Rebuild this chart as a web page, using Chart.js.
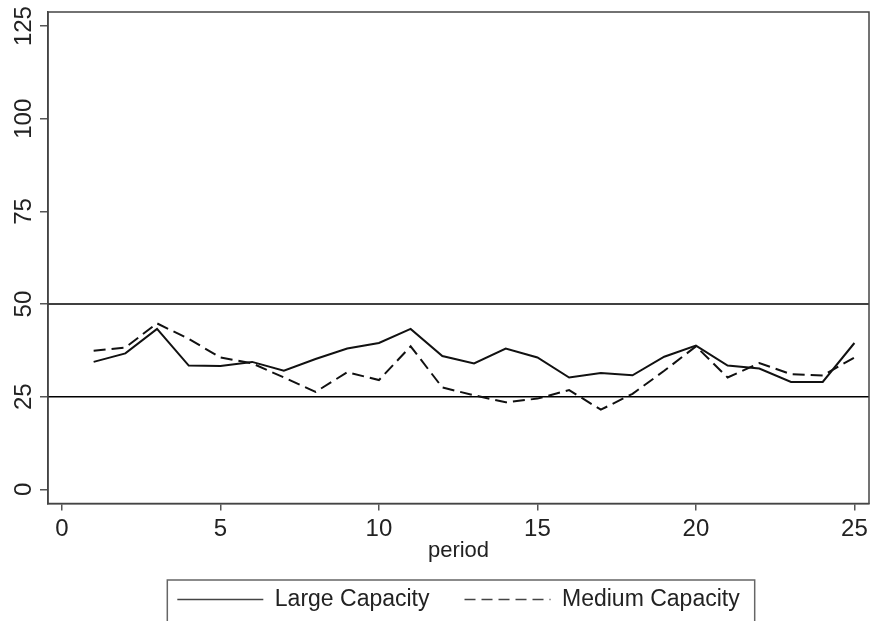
<!DOCTYPE html>
<html>
<head>
<meta charset="utf-8">
<script src="https://cdn.jsdelivr.net/npm/chart.js@4"></script>
<style>
  body { margin: 0; background: #fff; }
  #capacityChart { display: block; }
</style>
</head>
<body>
<canvas id="capacityChart" width="872" height="621"></canvas>
<script>
// Data
const periods = [1, 2, 3, 4, 5, 6, 7, 8, 9, 10, 11, 12, 13, 14, 15, 16, 17, 18, 19, 20, 21, 22, 23, 24, 25];
const largeCapacity = [34.4, 36.7, 43.3, 33.4, 33.3, 34.4, 32.0, 35.2, 38.0, 39.5, 43.3, 36.0, 34.0, 38.0, 35.6, 30.2, 31.4, 30.8, 35.8, 38.8, 33.4, 32.6, 29.0, 29.0, 39.5];
const mediumCapacity = [37.4, 38.3, 44.8, 40.6, 35.6, 34.0, 30.2, 26.3, 31.6, 29.5, 38.6, 27.5, 25.4, 23.5, 24.5, 26.8, 21.5, 25.8, 32.0, 38.6, 30.2, 34.1, 31.1, 30.7, 35.6];
const xTicks = [0, 5, 10, 15, 20, 25];
const yTicks = [0, 25, 50, 75, 100, 125];
const refLines = [25, 50];

const fontFamily = '"Liberation Sans", Arial, sans-serif';
// tick numbers in the original are a narrow face
const tickFamily = '"Liberation Sans Narrow", "Arial Narrow", "Liberation Sans", sans-serif';
const ctx = document.getElementById('capacityChart').getContext('2d');

// pair each period with its value for the linear x axis
const toPoints = values => periods.map((p, i) => ({ x: p, y: values[i] }));

// box round the plot, horizontal reference lines, rotated y labels, legend frame
const stataDecor = {
    id: 'stataDecor',
    beforeDatasetsDraw(chart) {
        const { ctx, chartArea, scales } = chart;
        ctx.save();
        ctx.strokeStyle = '#000';
        ctx.lineWidth = 1.5;
        refLines.forEach(v => {
            const y = scales.y.getPixelForValue(v);
            ctx.beginPath();
            ctx.moveTo(chartArea.left, y);
            ctx.lineTo(chartArea.right, y);
            ctx.stroke();
        });
        ctx.restore();
    },
    afterDraw(chart) {
        const { ctx, chartArea, scales, legend } = chart;
        ctx.save();
        // plot frame
        ctx.strokeStyle = '#444';
        ctx.lineWidth = 1.5;
        ctx.strokeRect(chartArea.left, chartArea.top, chartArea.right - chartArea.left, chartArea.bottom - chartArea.top);

        // y tick labels written sideways
        ctx.fillStyle = '#222';
        ctx.font = '24px ' + tickFamily;
        ctx.textAlign = 'center';
        ctx.textBaseline = 'middle';
        yTicks.forEach(v => {
            const y = scales.y.getPixelForValue(v);
            ctx.save();
            ctx.translate(24, y);
            ctx.rotate(-Math.PI / 2);
            ctx.fillText(String(v), 0, 0);
            ctx.restore();
        });

        // frame round the legend
        const boxes = legend.legendHitBoxes;
        if (boxes && boxes.length) {
            const first = boxes[0];
            const last = boxes[boxes.length - 1];
            const left = first.left - 10;
            const right = last.left + last.width + 15;
            const top = first.top - 8;
            ctx.strokeStyle = '#666';
            ctx.lineWidth = 1.5;
            ctx.strokeRect(left, top, right - left, 60);
        }
        ctx.restore();
    }
};

const chart = new Chart(ctx, {
    type: 'line',
    data: {
        datasets: [
            {
                label: 'Large Capacity',
                data: toPoints(largeCapacity),
                borderColor: '#111',
                backgroundColor: '#111',
                borderWidth: 2,
                pointRadius: 0,
                tension: 0
            },
            {
                label: 'Medium Capacity',
                data: toPoints(mediumCapacity),
                borderColor: '#111',
                backgroundColor: '#111',
                borderWidth: 2,
                borderDash: [12, 6],
                pointRadius: 0,
                tension: 0
            }
        ]
    },
    options: {
        responsive: false,
        animation: false,
        layout: { padding: { top: 12, right: 3, bottom: 0, left: 0 } },
        plugins: {
            tooltip: { enabled: false },
            legend: {
                position: 'bottom',
                fullSize: false,
                labels: {
                    usePointStyle: true,
                    pointStyle: 'line',
                    pointStyleWidth: 86,
                    padding: 35,
                    color: '#222',
                    font: { family: fontFamily, size: 23 },
                    generateLabels(chart) {
                        const items = Chart.defaults.plugins.legend.labels.generateLabels(chart);
                        items.forEach((item, i) => {
                            item.lineDash = chart.data.datasets[i].borderDash ? [11, 6] : [];
                            item.lineWidth = 1.5;
                            item.strokeStyle = '#444';
                            item.fillStyle = '#444';
                        });
                        return items;
                    }
                }
            }
        },
        scales: {
            x: {
                type: 'linear',
                min: -0.44,
                max: 25.46,
                afterBuildTicks: scale => { scale.ticks = xTicks.map(v => ({ value: v })); },
                afterFit: scale => { scale.height = 49.5; },
                grid: { drawOnChartArea: false, tickLength: 7, color: '#555', lineWidth: 1.5 },
                border: { display: true, color: '#444', width: 1.5 },
                ticks: {
                    padding: 4,
                    color: '#222',
                    maxRotation: 0,
                    font: { family: tickFamily, size: 24 }
                },
                title: {
                    display: true,
                    text: 'period',
                    color: '#222',
                    padding: { top: 0, bottom: -11.5 },
                    font: { family: fontFamily, size: 22 }
                }
            },
            y: {
                type: 'linear',
                min: -3.8,
                max: 128.8,
                afterBuildTicks: scale => { scale.ticks = yTicks.map(v => ({ value: v })); },
                afterFit: scale => { scale.width = 48; },
                grid: { drawOnChartArea: false, tickLength: 8, color: '#555', lineWidth: 1.5 },
                border: { display: true, color: '#444', width: 1.5 },
                ticks: { callback: () => '' }
            }
        }
    },
    plugins: [stataDecor]
});
</script>
</body>
</html>
